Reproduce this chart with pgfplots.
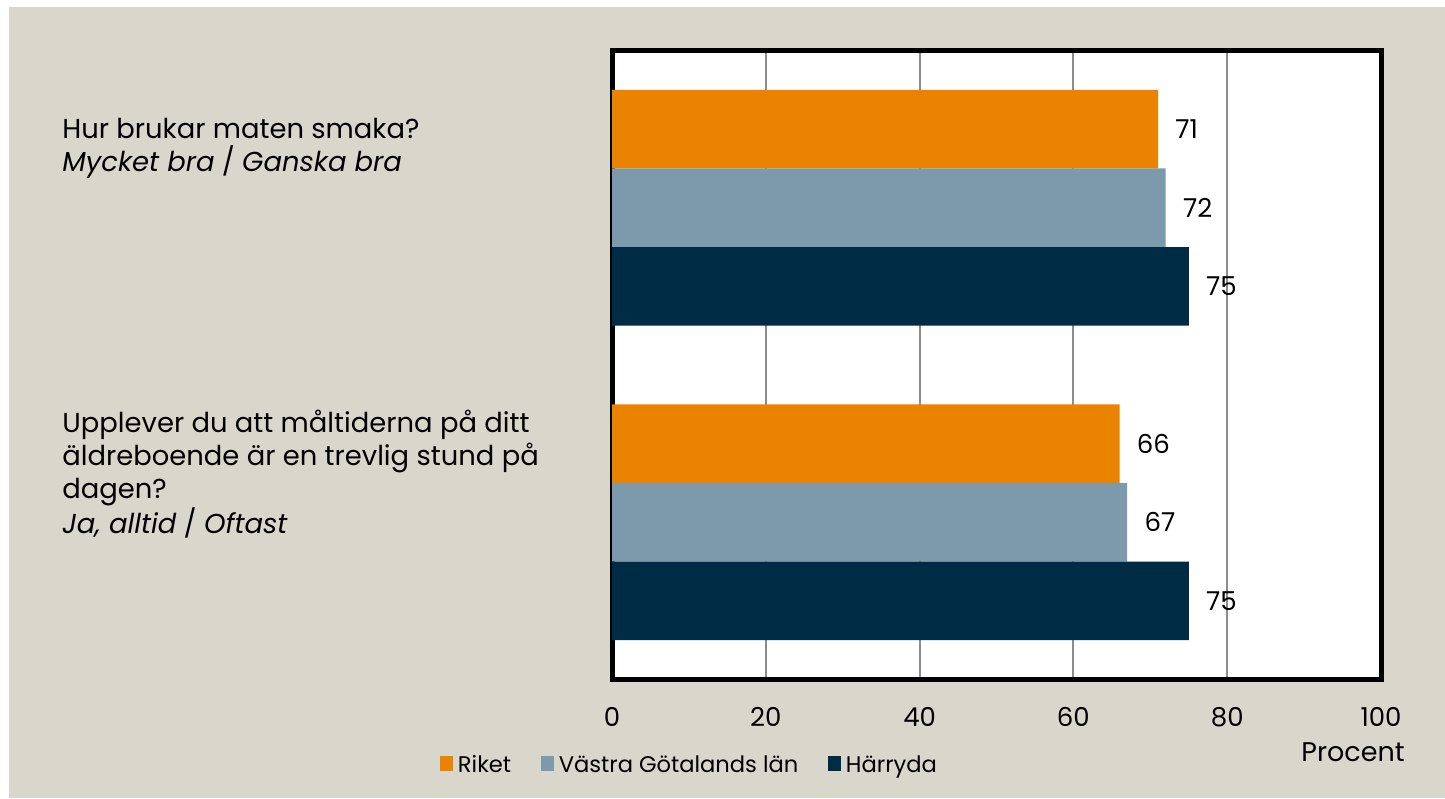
\documentclass[border=0pt]{standalone}
\usepackage{fontspec}
\setmainfont{Poppins}
\usepackage{pgfplots}
\pgfplotsset{compat=1.18}
\definecolor{bgbeige}{RGB}{217,215,203}
\definecolor{riket}{RGB}{233,131,0}
\definecolor{vgl}{RGB}{124,154,171}
\definecolor{harryda}{RGB}{0,43,69}
\definecolor{gridgray}{RGB}{140,140,140}
\newcommand\fq{\fontsize{13.7pt}{16.5pt}\selectfont}
\newcommand\ft{\fontsize{13pt}{15.6pt}\selectfont}
\newcommand\fl{\fontsize{11.3pt}{13.5pt}\selectfont}
\begin{document}
\begin{tikzpicture}
\path[use as bounding box] (0,0) rectangle (722.5pt,399pt);
\fill[white] (0,0) rectangle (722.5pt,399pt);
\fill[bgbeige] (4.5pt,0) rectangle (722.5pt,395.5pt);
\begin{axis}[
  at={(306pt,59.25pt)}, anchor=south west,
  scale only axis, width=384.5pt, height=314.5pt,
  xbar, bar width=0.25,
  xmin=0, xmax=100, ymin=-0.5, ymax=1.5,
  enlargelimits=false,
  xtick={0,20,...,100}, ytick=\empty,
  major tick length=0pt,
  xmajorgrids,
  major grid style={draw=gridgray, line width=1pt},
  axis line style={line width=2.5pt, black},
  axis background/.style={fill=white},
  /pgf/number format/assume math mode=true,
  font=\ft,
  xticklabel style={font=\ft, anchor=base, yshift=-23.6pt, inner sep=0pt},
  xlabel={Procent},
  xlabel style={at={(axis description cs:1,0)}, anchor=base east, xshift=12pt, yshift=-41.1pt, inner sep=0pt, font=\fontsize{13.5pt}{16pt}\selectfont},
  nodes near coords,
  nodes near coords align=horizontal,
  every node near coord/.append style={anchor=west, inner sep=0pt, xshift=8.5pt, font=\ft, black},
  legend columns=3,
  legend image code/.code={\fill[#1] (0pt,0.8pt) rectangle (6.3pt,8.6pt);},
  legend style={at={(axis description cs:-0.2237,-0.137)}, anchor=west,
    draw=none, fill=none, inner sep=0pt, font=\fl,
    nodes={inner sep=0pt, anchor=base west},
    /tikz/every odd column/.append style={column sep=2.5pt},
    /tikz/every even column/.append style={column sep=15pt}},
  clip=false,
]
\addplot[fill=riket, draw=none, bar shift=0.25] coordinates {(71,1) (66,0)};
\addplot[fill=vgl, draw=none, bar shift=0] coordinates {(72,1) (67,0)};
\addplot[fill=harryda, draw=none, bar shift=-0.25] coordinates {(75,1) (75,0)};
\legend{Riket, Västra Götalands län, Härryda}
\end{axis}
\node[anchor=north west, align=left, inner sep=0pt, font=\fq] at (31pt,340pt)
  {Hur brukar maten smaka?\\\textit{Mycket bra} / \textit{Ganska bra}};
\node[anchor=north west, align=left, inner sep=0pt, font=\fq] at (31pt,194pt)
  {Upplever du att måltiderna på ditt\\äldreboende är en trevlig stund på\\dagen?\\\textit{Ja, alltid} / \textit{Oftast}};
\end{tikzpicture}
\end{document}
